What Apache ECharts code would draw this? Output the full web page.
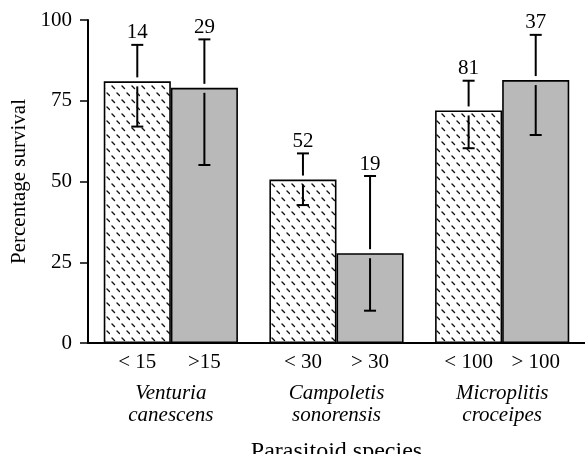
<!DOCTYPE html>
<html>
<head>
<meta charset="utf-8">
<script src="https://cdn.jsdelivr.net/npm/echarts@6/dist/echarts.min.js"></script>
<style>
html,body{margin:0;padding:0;background:#fff;}
#chart{width:585px;height:454px;}
</style>
</head>
<body>
<div id="chart"></div>
<script>
// ---- data ----
var species = ['Venturia\ncanescens', 'Campoletis\nsonorensis', 'Microplitis\ncroceipes'];
var smallLabels = ['< 15', '< 30', '< 100'];
var largeLabels = ['>15', '> 30', '> 100'];
var smallMeans = [81, 50.6, 72];
var largeMeans = [79, 27.8, 81.4];
var smallLow = [67, 42.7, 60.3];
var smallHigh = [92.3, 58.7, 81.2];
var largeLow = [55.1, 10, 64.4];
var largeHigh = [94, 51.7, 95.4];
var smallN = ['14', '52', '81'];
var largeN = ['29', '19', '37'];
var yTicks = [0, 25, 50, 75, 100];

var FONT = 'Liberation Serif';
var CAT_GAP = 0.19;

function makeHatch() {
  var c = document.createElement('canvas');
  c.width = 10; c.height = 14;
  var g = c.getContext('2d');
  g.fillStyle = '#ffffff';
  g.fillRect(0, 0, 10, 14);
  g.strokeStyle = '#111';
  g.lineWidth = 1.4;
  g.lineCap = 'round';
  g.beginPath();
  g.moveTo(2, 2); g.lineTo(4.5, 4.5);
  g.moveTo(7, 9); g.lineTo(9.5, 11.5);
  g.stroke();
  return c;
}
var hatch = makeHatch();

var errData = [];
for (var i = 0; i < species.length; i++) {
  errData.push([i, smallLow[i], smallHigh[i], smallMeans[i], 0, smallN[i]]);
  errData.push([i, largeLow[i], largeHigh[i], largeMeans[i], 1, largeN[i]]);
}

function renderErr(params, api) {
  var cat = api.value(0);
  var lo = api.value(1), hi = api.value(2), mean = api.value(3), side = api.value(4);
  var label = errData[params.dataIndex][5];
  var catW = api.size([1, 0])[0];
  var bw = catW * (1 - CAT_GAP) / 2;
  var pLo = api.coord([cat, lo]);
  var pHi = api.coord([cat, hi]);
  var pM = api.coord([cat, mean]);
  var x = pLo[0] + (side === 0 ? -bw / 2 : bw / 2);
  var yLo = pLo[1], yHi = pHi[1], yM = pM[1];
  var st = { stroke: '#000', lineWidth: 2 };
  var cap = 6;
  var children = [
    { type: 'line', shape: { x1: x, y1: yHi, x2: x, y2: yM - 4 }, style: st },
    { type: 'line', shape: { x1: x, y1: yM + 5, x2: x, y2: yLo }, style: st },
    { type: 'line', shape: { x1: x - cap, y1: yHi, x2: x + cap, y2: yHi }, style: st },
    { type: 'line', shape: { x1: x - cap, y1: yLo, x2: x + cap, y2: yLo }, style: st },
    { type: 'text', style: { text: label, x: x, y: yHi - 12, textAlign: 'center', textVerticalAlign: 'middle',
        font: '21px "' + FONT + '"', fill: '#000' } }
  ];
  return { type: 'group', children: children };
}

var chart = echarts.init(document.getElementById('chart'), null, { renderer: 'canvas' });
chart.setOption({
  backgroundColor: '#fff',
  animation: false,
  grid: { left: 88, right: 0, top: 20, bottom: 111, containLabel: false, outerBoundsMode: 'none' },
  xAxis: {
    type: 'category',
    data: species,
    boundaryGap: true,
    axisLine: { lineStyle: { color: '#000', width: 2 } },
    axisTick: { alignWithLabel: true, length: 9, lineStyle: { color: '#000', width: 1.5 } },
    axisLabel: { color: '#000', fontFamily: FONT, fontSize: 21, fontStyle: 'italic',
      lineHeight: 22, margin: 39, verticalAlign: 'top', interval: 0 },
    name: 'Parasitoid species',
    nameLocation: 'middle',
    nameGap: 97,
    nameTextStyle: { color: '#000', fontFamily: FONT, fontSize: 24 }
  },
  yAxis: {
    type: 'value',
    min: 0, max: 100, interval: 25,
    axisLine: { show: true, lineStyle: { color: '#000', width: 2 } },
    axisTick: { show: true, length: 8, lineStyle: { color: '#000', width: 1.5 } },
    splitLine: { show: false },
    axisLabel: { color: '#000', fontFamily: FONT, fontSize: 21, margin: 16,
      formatter: function (v) { return yTicks.indexOf(v) >= 0 ? String(v) : ''; } },
    name: 'Percentage survival',
    nameLocation: 'middle',
    nameGap: 53,
    nameTextStyle: { color: '#000', fontFamily: FONT, fontSize: 21 }
  },
  series: [
    {
      type: 'bar',
      data: smallMeans,
      barGap: '0%',
      barCategoryGap: (CAT_GAP * 100) + '%',
      itemStyle: { color: { image: hatch, repeat: 'repeat' }, borderColor: '#000', borderWidth: 1.6 },
      label: { show: true, position: ['50%', '100%'], offset: [0, 19], align: 'center', verticalAlign: 'middle',
        color: '#000', fontFamily: FONT, fontSize: 21,
        formatter: function (p) { return smallLabels[p.dataIndex]; } },
      z: 2
    },
    {
      type: 'bar',
      data: largeMeans,
      barGap: '0%',
      barCategoryGap: (CAT_GAP * 100) + '%',
      itemStyle: { color: '#b9b9b9', borderColor: '#000', borderWidth: 1.6 },
      label: { show: true, position: ['50%', '100%'], offset: [0, 19], align: 'center', verticalAlign: 'middle',
        color: '#000', fontFamily: FONT, fontSize: 21,
        formatter: function (p) { return largeLabels[p.dataIndex]; } },
      z: 2
    },
    {
      type: 'custom',
      data: errData,
      renderItem: renderErr,
      encode: { x: 0, y: [1, 2] },
      z: 5,
      silent: true
    }
  ]
});
</script>
</body>
</html>
